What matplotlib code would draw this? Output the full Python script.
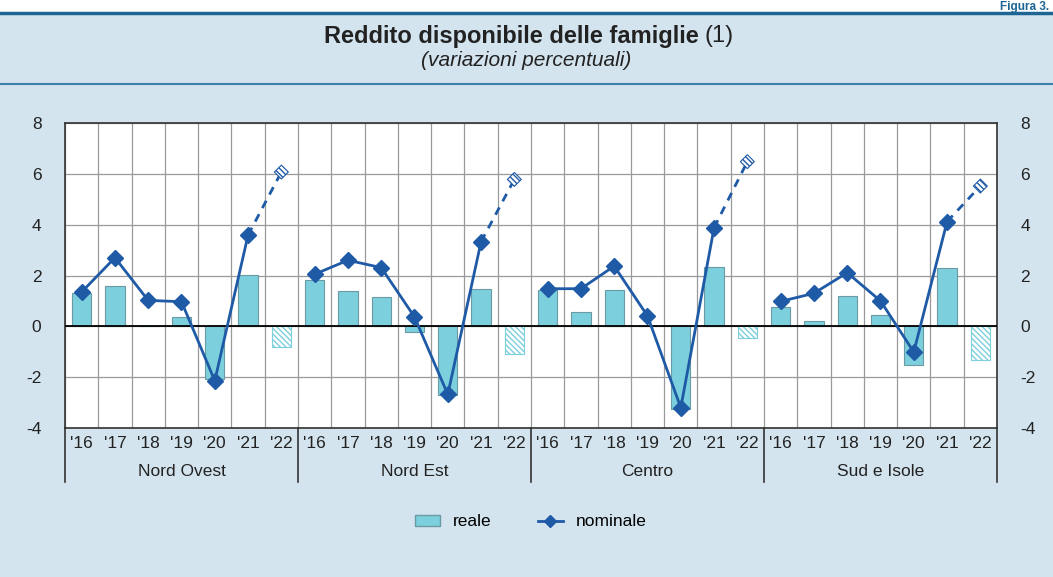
import numpy as np
import matplotlib
matplotlib.use('Agg')
import matplotlib.pyplot as plt
import matplotlib.transforms as mtransforms
from matplotlib.patches import Patch, Rectangle
from matplotlib.lines import Line2D

plt.rcParams['font.family'] = ['Liberation Sans', 'DejaVu Sans']
plt.rcParams['hatch.linewidth'] = 1.0
plt.rcParams['axes.unicode_minus'] = False

# data
regions = ['Nord Ovest', 'Nord Est', 'Centro', 'Sud e Isole']
years = ["'16", "'17", "'18", "'19", "'20", "'21", "'22"]
reale = {
    'Nord Ovest': [1.31, 1.57, 0.0, 0.38, -2.06, 2.02, -0.81],
    'Nord Est': [1.84, 1.39, 1.17, -0.22, -2.69, 1.48, -1.07],
    'Centro': [1.44, 0.58, 1.44, 0.02, -3.24, 2.35, -0.45],
    'Sud e Isole': [0.77, 0.22, 1.21, 0.46, -1.51, 2.28, -1.31],
}
nominale = {
    'Nord Ovest': [1.35, 2.70, 1.02, 0.97, -2.14, 3.59, 6.07],
    'Nord Est': [2.05, 2.60, 2.31, 0.37, -2.68, 3.33, 5.78],
    'Centro': [1.48, 1.48, 2.37, 0.41, -3.20, 3.88, 6.48],
    'Sud e Isole': [0.98, 1.30, 2.11, 1.00, -1.01, 4.12, 5.52],
}

BG = '#d3e4ee'
BAR = '#7ccfdc'
LINE = '#1f5aa6'
DARK = '#1d6593'
TXT = '#222222'
FS = 12.5

fig = plt.figure(figsize=(10.53, 5.77), dpi=100)
fig.patch.set_facecolor(BG)
# white strip above the header line
fig.add_artist(Rectangle((0, 1 - 12 / 577), 1, 12 / 577, transform=fig.transFigure,
                         facecolor='white', edgecolor='none', zorder=0))
fig.add_artist(Line2D([0, 1], [1 - 13 / 577] * 2, color=DARK, lw=2.5))
fig.add_artist(Line2D([0, 1], [1 - 84 / 577] * 2, color='#3d7fa8', lw=1.5))
fig.text(1049 / 1053, 1 - 1 / 577, 'Figura 3.', fontsize=8.5, fontweight='bold',
         color=DARK, ha='right', va='top')

ax = fig.add_axes([65 / 1053, 1 - 428 / 577, 932 / 1053, 305 / 577])
ax.set_facecolor('white')

n = len(years)
for g, reg in enumerate(regions):
    x = g * n + np.arange(n) + 0.5
    r = reale[reg]
    ax.bar(x[:-1], r[:-1], width=0.58, color=BAR, edgecolor='#6a9aa3', linewidth=0.8, zorder=3)
    ax.bar(x[-1], r[-1], width=0.58, facecolor='white', edgecolor=BAR, hatch='\\\\\\\\\\\\',
           linewidth=0.8, zorder=3)
    v = nominale[reg]
    ax.plot(x[:-1], v[:-1], color=LINE, lw=2, marker='D', markersize=8, zorder=5)
    ax.plot(x[-2:], v[-2:], color=LINE, lw=2, ls=(0, (3, 2.5)), zorder=4)
    ax.scatter([x[-1]], [v[-1]], marker='D', s=50, facecolor='white', edgecolor=LINE,
               hatch='\\\\\\\\\\\\', linewidth=0.8, zorder=6)

ax.set_xlim(0, n * len(regions))
ax.set_ylim(-4, 8)
ax.set_yticks(range(-4, 9, 2))
ax.set_xticks(np.arange(0, n * len(regions) + 1))
ax.tick_params(axis='both', length=0, labelsize=FS, colors=TXT)
ax.tick_params(axis='x', labelbottom=False)
ax.tick_params(axis='y', labelright=True, pad=17)
ax.grid(True, color='#9a9a9a', lw=0.9, zorder=0)
ax.axhline(0, color='black', lw=1.3, zorder=4)
for s in ax.spines.values():
    s.set_color('#333333')
    s.set_linewidth(1.2)

# category labels
trans = mtransforms.blended_transform_factory(ax.transData, ax.transAxes)
for g, reg in enumerate(regions):
    for i, yl in enumerate(years):
        ax.text(g * n + i + 0.5, -16 / 305, yl, transform=trans, ha='center', va='center',
                fontsize=FS, color=TXT)
    ax.text(g * n + n / 2, -44 / 305, reg, transform=trans, ha='center', va='center',
            fontsize=FS, color=TXT)
for g in range(len(regions) + 1):
    ax.plot([g * n, g * n], [0, -54 / 305], transform=trans, color='#333333', lw=1.2,
            clip_on=False)

# title
t1 = fig.text(0.5, 1 - 36 / 577, 'Reddito disponibile delle famiglie', fontsize=17,
              fontweight='bold', ha='center', va='center', color=TXT)
fig.canvas.draw()
bb = t1.get_window_extent()
shift = 15
t1.set_position(((bb.x0 + bb.x1) / 2 / 1053 - shift / 1053, 1 - 36 / 577))
fig.text((bb.x1 - shift + 6) / 1053, 1 - 36 / 577, '(1)', fontsize=17, ha='left',
         va='center', color=TXT)
fig.text(0.5, 1 - 61 / 577, '(variazioni percentuali)', fontsize=15, style='italic',
         ha='center', va='center', color=TXT)

handles = [Patch(facecolor=BAR, edgecolor='#6a9aa3', label='reale'),
           Line2D([0], [0], color=LINE, lw=2, marker='D', markersize=6, label='nominale')]
fig.legend(handles=handles, loc='center', bbox_to_anchor=(531 / 1053, 1 - 522 / 577),
           ncol=2, frameon=False, fontsize=FS, columnspacing=2.7, handlelength=1.4,
           handletextpad=0.75, handleheight=0.6)

fig.savefig('out.png', dpi=100, facecolor=BG)
